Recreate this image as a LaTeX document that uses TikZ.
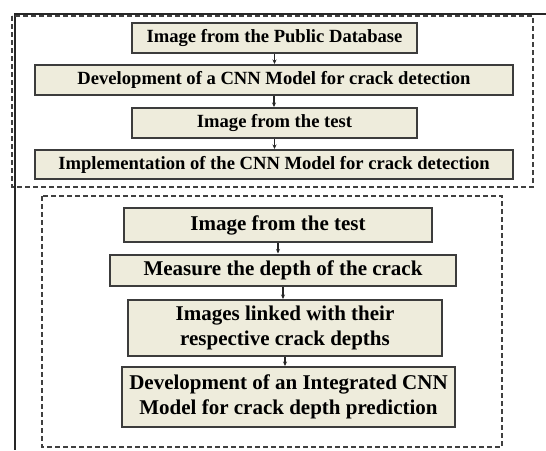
\documentclass[tikz,border=0pt]{standalone}
\usepackage{fontspec}
\setmainfont{Liberation Serif}
\usetikzlibrary{arrows.meta}
\definecolor{boxfill}{RGB}{238,236,220}
\definecolor{boxline}{RGB}{60,60,60}

\begin{document}
\begin{tikzpicture}[x=1pt,y=-1pt,
  box/.style={draw=boxline,line width=2pt,fill=boxfill,align=center,inner sep=0pt},
  upper/.style={box,font=\fontsize{18.6}{20}\bfseries},
  lower/.style={box,font=\fontsize{21}{25}\bfseries},
  frame/.style={draw=black!75,line width=1.2pt,dash pattern=on 5pt off 3pt},
  link/.style={-{Stealth[length=4.5pt,width=4pt]},line width=1.4pt,black!85}]
\useasboundingbox (0,0) rectangle (546,450);
\draw[line width=2pt,black!85] (546,14) -- (15,14) -- (15,450);
\draw[frame] (12,16) rectangle (533,187);
\draw[frame] (42,196) rectangle (502,447);
\node[upper,minimum width=285pt,minimum height=30pt] (pub) at (274.5,38) {Image from the Public Database};
\node[upper,minimum width=478pt,minimum height=30pt] (dev) at (274,80) {Development of a CNN Model for crack detection};
\node[upper,minimum width=285pt,minimum height=30pt] (test) at (274.5,123) {Image from the test};
\node[upper,minimum width=478pt,minimum height=29pt] (impl) at (274,164.5) {Implementation of the CNN Model for crack detection};
\node[lower,minimum width=308pt,minimum height=34pt] (test2) at (278,225) {Image from the test};
\node[lower,minimum width=346pt,minimum height=31pt] (depth) at (283,270) {Measure the depth of the crack};
\node[lower,minimum width=314pt,minimum height=56pt] (linked) at (285,328) {Images linked with their\\respective crack depths};
\node[lower,minimum width=333pt,minimum height=60pt] (integ) at (288.5,397) {Development of an Integrated CNN\\Model for crack depth prediction};
\draw[link] (pub.south) -- (pub.south |- dev.north);
\draw[link] (dev.south) -- (dev.south |- test.north);
\draw[link] (test.south) -- (test.south |- impl.north);
\draw[link] (test2.south) -- (test2.south |- depth.north);
\draw[link] (depth.south) -- (depth.south |- linked.north);
\draw[link] (linked.south) -- (linked.south |- integ.north);
\end{tikzpicture}
\end{document}
